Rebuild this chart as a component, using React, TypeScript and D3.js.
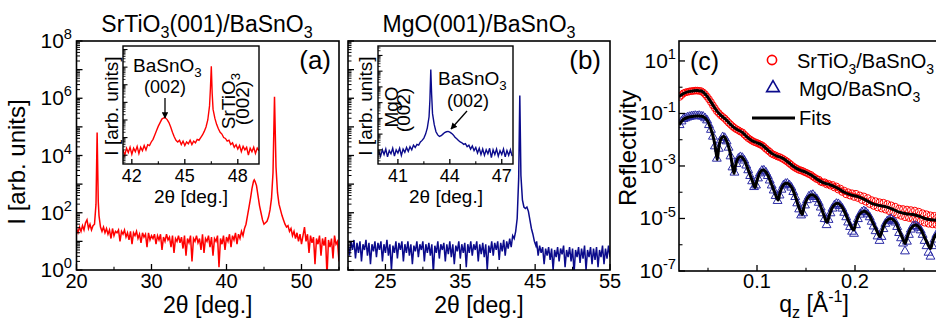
import React from 'react';
import * as d3 from 'd3';

type P = [number, number];
const FONT = '"Liberation Sans", Arial, Helvetica, sans-serif';

// ---------- Panel (a): SrTiO3(001)/BaSnO3, [2θ deg, log10 I] ----------
const XRD_STO: P[] = [
  [20.0,1.45],[20.2,1.3],[20.4,1.5],[20.6,1.35],[20.8,1.55],[21.0,1.4],[21.2,1.65],[21.4,1.75],[21.6,1.45],[21.8,1.6],
  [22.0,1.4],[22.2,1.55],[22.4,1.6],[22.6,2.3],[22.75,4.8],[22.9,2.4],[23.0,1.9],[23.2,1.5],[23.4,1.35],[23.6,1.5],[23.8,1.3],
  [24.0,1.45],[24.2,1.25],[24.4,1.4],[24.6,1.1],[24.8,1.45],[25.0,1.2],[25.2,1.35],[25.4,1.3],[25.6,1.4],[25.8,1.0],
  [26.0,1.35],[26.2,1.25],[26.4,1.4],[26.6,1.15],[26.8,1.3],[27.0,1.05],[27.2,1.35],[27.4,0.9],[27.6,1.3],[27.8,1.2],
  [28.0,1.35],[28.2,1.1],[28.4,1.25],[28.6,0.95],[28.8,1.3],[29.0,1.15],[29.2,1.25],[29.4,0.8],[29.6,1.3],[29.8,1.05],
  [30.0,1.2],[30.2,1.1],[30.4,1.25],[30.6,0.9],[30.8,1.2],[31.0,1.05],[31.2,1.25],[31.4,0.7],[31.6,1.15],[31.8,1.0],
  [32.0,1.25],[32.2,1.05],[32.4,1.15],[32.6,0.8],[32.8,1.2],[33.0,0.6],[33.2,1.1],[33.4,1.0],[33.6,1.2],[33.8,0.95],
  [34.0,1.15],[34.2,0.75],[34.4,1.2],[34.6,0.5],[34.8,1.1],[35.0,0.95],[35.2,1.2],[35.4,0.3],[35.6,1.1],[35.8,1.0],
  [36.0,1.2],[36.2,0.95],[36.4,1.1],[36.6,0.7],[36.8,1.25],[37.0,0.6],[37.2,1.1],[37.4,1.0],[37.6,1.2],[37.8,0.8],
  [38.0,1.15],[38.2,0.5],[38.4,1.1],[38.6,1.0],[38.8,1.2],[39.0,0.1],[39.2,1.1],[39.4,0.9],[39.6,1.2],[39.8,0.7],
  [40.0,1.15],[40.2,1.0],[40.4,1.25],[40.6,0.8],[40.8,1.2],[41.0,1.05],[41.2,1.3],[41.4,0.9],[41.6,1.25],[41.8,1.1],
  [42.0,1.35],[42.2,1.2],[42.4,1.45],[42.6,1.6],[42.8,1.9],[43.0,2.2],[43.2,2.5],[43.4,2.85],[43.6,3.1],[43.7,3.15],
  [43.8,3.1],[44.0,2.95],[44.2,2.6],[44.4,2.25],[44.6,2.0],[44.8,1.75],[45.0,1.6],[45.2,1.65],[45.4,1.7],[45.6,1.85],
  [45.8,2.1],[46.0,2.5],[46.2,3.4],[46.4,6.05],[46.6,3.6],[46.8,2.7],[47.0,2.3],[47.2,2.1],[47.4,1.9],[47.6,1.75],
  [47.8,1.6],[48.0,1.5],[48.2,1.55],[48.4,1.35],[48.6,1.45],[48.8,1.2],[49.0,1.35],[49.2,1.1],[49.4,1.3],[49.6,1.0],
  [49.8,1.25],[50.0,0.9],[50.2,1.2],[50.4,1.5],[50.6,1.0],[50.8,1.25],[51.0,0.6],[51.2,1.2],[51.4,0.95],[51.6,1.15],
  [51.8,0.2],[52.0,1.1],[52.2,0.9],[52.4,1.2],[52.6,0.5],[52.8,1.1],[53.0,0.85],[53.2,1.15],[53.4,-0.2],[53.6,1.05],
  [53.8,0.8],[54.0,1.1],[54.2,0.4],[54.4,1.2],[54.6,0.9],[54.8,1.0],[55.0,0.3],
];

const XRD_STO_INSET: P[] = [
  [41.5,1.3],[41.6,1.0],[41.7,1.4],[41.8,1.15],[41.9,1.45],[42.0,1.05],[42.1,1.4],[42.2,1.2],[42.3,1.5],[42.4,1.1],
  [42.5,1.45],[42.6,1.25],[42.7,1.55],[42.8,1.3],[42.9,1.6],[43.0,1.55],[43.1,1.75],[43.2,1.9],[43.3,2.15],[43.4,2.4],
  [43.5,2.65],[43.6,2.85],[43.7,3.05],[43.8,3.12],[43.9,3.12],[44.0,3.02],[44.1,2.85],[44.2,2.6],[44.3,2.3],[44.4,2.05],
  [44.5,1.85],[44.6,1.75],[44.7,1.85],[44.8,1.6],[44.9,1.8],[45.0,1.55],[45.1,1.75],[45.2,1.65],[45.3,1.85],[45.4,1.6],
  [45.5,1.8],[45.6,1.7],[45.7,1.9],[45.8,1.85],[45.9,2.0],[46.0,2.15],[46.1,2.35],[46.2,2.6],[46.3,3.0],[46.4,3.8],
  [46.45,4.8],[46.5,6.05],[46.55,4.5],[46.6,3.6],[46.7,3.1],[46.8,2.75],[46.9,2.5],[47.0,2.3],[47.1,2.2],[47.2,2.0],
  [47.3,1.95],[47.4,1.8],[47.5,1.85],[47.6,1.6],[47.7,1.7],[47.8,1.45],[47.9,1.6],[48.0,1.35],[48.1,1.55],[48.2,1.2],
  [48.3,1.5],[48.4,1.3],[48.5,1.45],[48.6,1.0],[48.7,1.4],[48.8,1.2],[48.9,1.45],[49.0,1.1],[49.1,1.4],[49.2,1.25],
];

// ---------- Panel (b): MgO(001)/BaSnO3, [2θ deg, log10 I] ----------
const XRD_MGO: P[] = [
  [20.0,0.9],[20.2,0.5],[20.4,1.0],[20.6,0.7],[20.8,1.05],[21.0,0.4],[21.2,0.95],[21.4,0.6],[21.6,1.0],[21.8,0.3],
  [22.0,0.9],[22.2,0.7],[22.4,1.05],[22.6,0.5],[22.8,0.95],[23.0,0.2],[23.2,0.9],[23.4,0.65],[23.6,1.0],[23.8,0.45],
  [24.0,0.95],[24.2,0.7],[24.4,1.0],[24.6,0.3],[24.8,0.9],[25.0,0.6],[25.2,1.05],[25.4,0.5],[25.6,0.9],[25.8,0.0],
  [26.0,0.85],[26.2,0.6],[26.4,1.0],[26.6,0.4],[26.8,0.95],[27.0,0.7],[27.2,1.0],[27.4,0.3],[27.6,0.9],[27.8,0.6],
  [28.0,1.0],[28.2,0.5],[28.4,0.9],[28.6,0.2],[28.8,0.85],[29.0,0.65],[29.2,1.0],[29.4,0.45],[29.6,0.9],[29.8,0.7],
  [30.0,1.0],[30.2,0.3],[30.4,0.9],[30.6,0.6],[30.8,0.95],[31.0,0.5],[31.2,0.9],[31.4,-0.1],[31.6,0.85],[31.8,0.6],
  [32.0,1.0],[32.2,0.4],[32.4,0.9],[32.6,0.7],[32.8,0.95],[33.0,0.3],[33.2,0.9],[33.4,0.55],[33.6,1.0],[33.8,0.45],
  [34.0,0.9],[34.2,0.2],[34.4,0.85],[34.6,0.65],[34.8,1.0],[35.0,0.4],[35.2,0.9],[35.4,0.6],[35.6,0.95],[35.8,0.1],
  [36.0,0.9],[36.2,0.6],[36.4,1.0],[36.6,0.5],[36.8,0.9],[37.0,0.7],[37.2,1.0],[37.4,0.3],[37.6,0.9],[37.8,0.55],
  [38.0,0.95],[38.2,0.45],[38.4,0.9],[38.6,0.0],[38.8,0.85],[39.0,0.6],[39.2,1.0],[39.4,0.5],[39.6,0.95],[39.8,0.7],
  [40.0,1.0],[40.2,0.35],[40.4,0.95],[40.6,0.65],[40.8,1.05],[41.0,0.5],[41.2,1.0],[41.4,0.75],[41.6,1.1],[41.8,0.8],
  [42.0,1.2],[42.2,1.1],[42.4,1.35],[42.6,1.8],[42.8,3.2],[42.95,6.1],[43.1,3.3],[43.3,2.45],[43.5,2.2],[43.7,2.15],
  [43.9,2.2],[44.1,2.05],[44.3,1.75],[44.5,1.45],[44.7,1.25],[44.9,1.0],[45.1,0.85],[45.2,1.0],[45.4,0.5],[45.6,0.85],
  [45.8,0.6],[46.0,0.8],[46.2,0.2],[46.4,0.75],[46.6,0.5],[46.8,0.8],[47.0,0.35],[47.2,0.75],[47.4,0.0],[47.6,0.7],
  [47.8,0.45],[48.0,0.8],[48.2,0.3],[48.4,0.75],[48.6,0.55],[48.8,0.85],[49.0,0.1],[49.2,0.7],[49.4,0.45],[49.6,0.8],
  [49.8,0.3],[50.0,0.75],[50.2,-0.1],[50.4,0.7],[50.6,0.45],[50.8,0.8],[51.0,0.25],[51.2,0.75],[51.4,0.4],[51.6,0.85],
  [51.8,0.0],[52.0,0.7],[52.2,0.45],[52.4,0.8],[52.6,0.2],[52.8,0.75],[53.0,0.35],[53.2,0.8],[53.4,0.1],[53.6,0.7],
  [53.8,0.45],[54.0,0.85],[54.2,0.2],[54.4,0.75],[54.6,0.4],[54.8,0.85],[55.0,0.45],
];

const XRD_MGO_INSET: P[] = [
  [39.9,0.9],[40.0,0.6],[40.1,1.0],[40.2,0.7],[40.3,1.05],[40.4,0.55],[40.5,0.95],[40.6,0.75],[40.7,1.1],[40.8,0.6],
  [40.9,1.0],[41.0,0.8],[41.1,1.1],[41.2,0.65],[41.3,1.05],[41.4,0.85],[41.5,1.15],[41.6,0.9],[41.7,1.2],[41.8,1.0],
  [41.9,1.3],[42.0,1.15],[42.1,1.35],[42.2,1.3],[42.3,1.5],[42.4,1.6],[42.5,1.75],[42.6,2.0],[42.7,2.4],[42.8,3.1],
  [42.85,4.2],[42.9,6.1],[42.95,4.5],[43.0,3.3],[43.1,2.6],[43.2,2.15],[43.3,1.95],[43.4,1.85],[43.5,1.9],[43.6,2.0],
  [43.7,2.1],[43.8,2.15],[43.9,2.17],[44.0,2.12],[44.1,2.05],[44.2,1.95],[44.3,1.8],[44.4,1.7],[44.5,1.6],[44.6,1.5],
  [44.7,1.45],[44.8,1.35],[44.9,1.4],[45.0,1.2],[45.1,1.3],[45.2,1.05],[45.3,1.25],[45.4,0.95],[45.5,1.15],[45.6,0.8],
  [45.7,1.1],[45.8,0.7],[45.9,1.05],[46.0,0.65],[46.1,1.0],[46.2,0.75],[46.3,1.1],[46.4,0.5],[46.5,1.0],[46.6,0.7],
  [46.7,1.05],[46.8,0.6],[46.9,0.95],[47.0,0.7],[47.1,1.05],[47.2,0.55],[47.3,0.95],[47.4,0.65],[47.5,1.0],[47.6,0.6],
];

// ---------- Panel (c): X-ray reflectivity, [q_z 1/Å, log10 R] ----------
const XRR_STO_DATA: P[] = [
  [0.021,-0.37],[0.023,-0.30],[0.025,-0.23],[0.027,-0.20],[0.029,-0.18],[0.031,-0.16],[0.033,-0.15],[0.035,-0.14],[0.037,-0.13],[0.039,-0.13],
  [0.041,-0.14],[0.043,-0.15],[0.045,-0.20],[0.047,-0.27],[0.049,-0.36],[0.051,-0.46],[0.053,-0.57],[0.055,-0.69],[0.057,-0.80],[0.059,-0.91],
  [0.061,-0.99],[0.063,-1.07],[0.065,-1.13],[0.067,-1.19],[0.069,-1.27],[0.071,-1.35],[0.073,-1.42],[0.075,-1.49],[0.077,-1.55],[0.079,-1.60],
  [0.081,-1.64],[0.083,-1.69],[0.085,-1.72],[0.087,-1.80],[0.089,-1.87],[0.091,-1.94],[0.093,-1.99],[0.095,-2.04],[0.097,-2.08],[0.099,-2.11],
  [0.101,-2.14],[0.103,-2.18],[0.105,-2.21],[0.107,-2.27],[0.109,-2.34],[0.111,-2.40],[0.113,-2.46],[0.115,-2.53],[0.117,-2.57],[0.119,-2.60],
  [0.121,-2.64],[0.123,-2.66],[0.125,-2.70],[0.127,-2.74],[0.129,-2.79],[0.131,-2.84],[0.133,-2.90],[0.135,-2.96],[0.137,-3.02],[0.139,-3.07],
  [0.141,-3.11],[0.143,-3.15],[0.145,-3.17],[0.147,-3.20],[0.149,-3.24],[0.151,-3.27],[0.153,-3.31],[0.155,-3.34],[0.157,-3.40],[0.159,-3.45],
  [0.161,-3.50],[0.163,-3.52],[0.165,-3.60],[0.167,-3.63],[0.169,-3.62],[0.171,-3.70],[0.173,-3.68],[0.175,-3.75],[0.177,-3.72],[0.179,-3.82],
  [0.181,-3.78],[0.183,-3.90],[0.185,-3.86],[0.187,-3.99],[0.189,-3.94],[0.191,-4.08],[0.193,-4.00],[0.195,-4.13],[0.197,-4.04],[0.199,-4.18],
  [0.201,-4.06],[0.203,-4.22],[0.205,-4.12],[0.207,-4.30],[0.209,-4.16],[0.211,-4.36],[0.213,-4.22],[0.215,-4.45],[0.217,-4.30],[0.219,-4.52],
  [0.221,-4.34],[0.223,-4.58],[0.225,-4.38],[0.227,-4.62],[0.229,-4.40],[0.231,-4.66],[0.233,-4.45],[0.235,-4.72],[0.237,-4.50],[0.239,-4.78],
  [0.241,-4.55],[0.243,-4.85],[0.245,-4.62],[0.247,-4.90],[0.249,-4.64],[0.251,-4.95],[0.253,-4.66],[0.255,-4.98],[0.257,-4.68],[0.259,-5.02],
  [0.261,-4.70],[0.263,-5.06],[0.265,-4.74],[0.267,-5.10],[0.269,-4.80],[0.271,-5.16],[0.273,-4.84],[0.275,-5.20],[0.277,-4.88],[0.279,-5.22],
  [0.281,-4.90],[0.283,-5.24],[0.285,-4.92],[0.287,-5.25],[0.289,-4.95],
];

const XRR_MGO_DATA: P[] = [
  [0.021,-1.44],[0.023,-1.30],[0.025,-1.21],[0.027,-1.18],[0.029,-1.15],[0.031,-1.13],[0.033,-1.11],[0.035,-1.10],[0.037,-1.09],[0.039,-1.10],
  [0.041,-1.09],[0.043,-1.11],[0.045,-1.12],[0.047,-1.18],[0.049,-1.26],[0.051,-1.44],[0.053,-1.62],[0.055,-1.88],[0.057,-2.25],[0.059,-2.72],
  [0.061,-2.34],[0.063,-2.02],[0.065,-1.90],[0.067,-1.93],[0.069,-2.06],[0.071,-2.30],[0.073,-2.63],[0.075,-3.05],[0.077,-3.25],[0.079,-2.92],
  [0.081,-2.72],[0.083,-2.66],[0.085,-2.69],[0.087,-2.79],[0.089,-2.98],[0.091,-3.16],[0.093,-3.38],[0.095,-3.58],[0.097,-3.80],[0.099,-3.74],
  [0.101,-3.47],[0.103,-3.28],[0.105,-3.18],[0.107,-3.17],[0.109,-3.24],[0.111,-3.38],[0.113,-3.55],[0.115,-3.74],[0.117,-3.93],[0.119,-4.14],
  [0.121,-4.33],[0.123,-4.12],[0.125,-3.90],[0.127,-3.74],[0.129,-3.68],[0.131,-3.67],[0.133,-3.73],[0.135,-3.82],[0.137,-3.99],[0.139,-4.18],
  [0.141,-4.42],[0.143,-4.65],[0.145,-4.88],[0.147,-4.80],[0.149,-4.50],[0.151,-4.30],[0.153,-4.16],[0.155,-4.12],[0.157,-4.10],[0.159,-4.18],
  [0.161,-4.26],[0.163,-4.40],[0.165,-4.58],[0.167,-4.80],[0.169,-5.02],[0.171,-5.25],[0.173,-5.05],[0.175,-4.80],[0.177,-4.62],[0.179,-4.50],
  [0.181,-4.44],[0.183,-4.45],[0.185,-4.52],[0.187,-4.62],[0.189,-4.78],[0.191,-4.95],[0.193,-5.15],[0.195,-5.32],[0.197,-5.50],[0.199,-5.58],
  [0.201,-5.25],[0.203,-5.02],[0.205,-4.85],[0.207,-4.76],[0.209,-4.72],[0.211,-4.76],[0.213,-4.84],[0.215,-4.95],[0.217,-5.12],[0.219,-5.30],
  [0.221,-5.48],[0.223,-5.68],[0.225,-5.85],[0.227,-5.70],[0.229,-5.40],[0.231,-5.20],[0.233,-5.10],[0.235,-5.05],[0.237,-5.02],[0.239,-5.10],
  [0.241,-5.15],[0.243,-5.32],[0.245,-5.55],[0.247,-5.75],[0.249,-5.95],[0.251,-6.25],[0.253,-5.88],[0.255,-5.62],[0.257,-5.42],[0.259,-5.30],
  [0.261,-5.28],[0.263,-5.30],[0.265,-5.35],[0.267,-5.45],[0.269,-5.62],[0.271,-5.85],[0.273,-6.05],[0.275,-6.30],[0.277,-6.45],[0.279,-6.05],
  [0.281,-5.80],[0.283,-5.62],[0.285,-5.55],[0.287,-5.52],[0.289,-5.50],
];

const XRR_STO_FIT: P[] = [
  [0.0204,-0.36],[0.025,-0.24],[0.030,-0.17],[0.035,-0.14],[0.040,-0.13],[0.044,-0.16],[0.048,-0.30],[0.052,-0.50],[0.056,-0.74],
  [0.060,-0.95],[0.064,-1.10],[0.068,-1.22],[0.072,-1.38],[0.076,-1.52],[0.080,-1.62],[0.085,-1.72],[0.090,-1.90],[0.095,-2.04],
  [0.100,-2.12],[0.105,-2.20],[0.110,-2.36],[0.115,-2.52],[0.120,-2.62],[0.126,-2.70],[0.132,-2.86],[0.138,-3.04],[0.144,-3.16],
  [0.150,-3.24],[0.156,-3.36],[0.162,-3.52],[0.168,-3.64],[0.175,-3.72],[0.182,-3.84],[0.189,-4.00],[0.196,-4.10],[0.203,-4.17],
  [0.210,-4.28],[0.217,-4.42],[0.224,-4.50],[0.231,-4.55],[0.238,-4.64],[0.245,-4.76],[0.252,-4.82],[0.259,-4.85],[0.266,-4.92],
  [0.273,-5.02],[0.280,-5.06],[0.289,-5.08],
];

const XRR_MGO_FIT: P[] = [
  [0.0204,-1.44],[0.025,-1.22],[0.030,-1.14],[0.035,-1.11],[0.040,-1.10],[0.045,-1.12],[0.049,-1.25],[0.053,-1.60],[0.056,-2.00],
  [0.0585,-2.55],[0.0595,-2.75],[0.061,-2.30],[0.0635,-1.95],[0.066,-1.88],[0.069,-2.05],[0.072,-2.40],[0.0745,-2.90],[0.0765,-3.28],
  [0.078,-3.00],[0.0805,-2.72],[0.0835,-2.65],[0.087,-2.78],[0.091,-3.15],[0.095,-3.55],[0.098,-3.82],[0.100,-3.55],[0.1035,-3.22],
  [0.1065,-3.15],[0.110,-3.28],[0.114,-3.62],[0.118,-4.00],[0.1215,-4.30],[0.1235,-4.00],[0.1275,-3.70],[0.131,-3.66],[0.135,-3.80],
  [0.139,-4.15],[0.1425,-4.55],[0.146,-4.85],[0.148,-4.55],[0.152,-4.20],[0.156,-4.10],[0.160,-4.18],[0.164,-4.45],[0.168,-4.85],
  [0.1715,-5.15],[0.174,-4.85],[0.178,-4.52],[0.182,-4.42],[0.186,-4.52],[0.190,-4.80],[0.194,-5.15],[0.1985,-5.44],[0.201,-5.15],
  [0.205,-4.82],[0.2095,-4.72],[0.214,-4.85],[0.218,-5.15],[0.222,-5.45],[0.2255,-5.69],[0.228,-5.42],[0.232,-5.10],[0.2365,-5.00],
  [0.241,-5.12],[0.245,-5.45],[0.2485,-5.75],[0.251,-5.95],[0.2535,-5.68],[0.2575,-5.35],[0.262,-5.25],[0.2665,-5.38],[0.2705,-5.68],
  [0.274,-5.95],[0.277,-6.14],[0.2795,-5.85],[0.283,-5.60],[0.2885,-5.52],
];

// ---------- ticks ----------
const XRD_X_DOMAIN: P = [20, 55];
const A_XTICKS = [20, 30, 40, 50];
const A_XMINOR = [25, 35, 45, 55];
const B_XTICKS = [25, 35, 45, 55];
const B_XMINOR = [20, 30, 40, 50];
const XRD_YDECADES = [0, 1, 2, 3, 4, 5, 6, 7, 8];
const A_YLABELS = [0, 2, 4, 6, 8];
const IA_XTICKS = [42, 45, 48];
const IA_XMINOR = [43.5, 46.5];
const IB_XTICKS = [41, 44, 47];
const IB_XMINOR = [42.5, 45.5];
const C_XTICKS = [0.1, 0.2];
const C_XMINOR = [0.05, 0.15, 0.25];
const C_YMAJOR = [1, -1, -3, -5, -7];
const C_YMINOR = [0, -2, -4, -6];

const TOP = 41;
const BOTTOM = 270;

type Part = { t: string; s?: 'sub' | 'sup' };
function Rich({ x = 0, y = 0, parts, fs, anchor = 'start', transform, fill = '#000' }: {
  x?: number; y?: number; parts: Part[]; fs: number; anchor?: string; transform?: string; fill?: string;
}) {
  let cur = 0;
  const spans = parts.map((p, i) => {
    const target = p.s === 'sub' ? fs * 0.28 : p.s === 'sup' ? -fs * 0.42 : 0;
    const dy = target - cur;
    cur = target;
    return (
      <tspan key={i} dy={dy} fontSize={p.s ? fs * 0.7 : fs}>{p.t}</tspan>
    );
  });
  return (
    <text x={x} y={y} fontSize={fs} textAnchor={anchor as any} transform={transform} fontFamily={FONT} fill={fill}>
      {spans}
    </text>
  );
}

function logMinor(lo: number, hi: number): number[] {
  const out: number[] = [];
  for (let d = Math.floor(lo); d < Math.ceil(hi); d++) {
    for (let k = 2; k <= 9; k++) {
      const v = d + Math.log10(k);
      if (v > lo && v < hi) out.push(v);
    }
  }
  return out;
}

const pw = (v: number) => Math.pow(10, v);

export default function App() {
  const xA = d3.scaleLinear().domain(XRD_X_DOMAIN).range([76.5, 339]);
  const xB = d3.scaleLinear().domain(XRD_X_DOMAIN).range([348, 610]);
  const yXRD = d3.scaleLog().domain([1, 1e8]).range([BOTTOM, TOP]);

  const xIA = d3.scaleLinear().domain([41.5, 49.2]).range([123, 259]);
  const yIA = d3.scaleLog().domain([pw(0.5), pw(7.2)]).range([164, 46]);
  const xIB = d3.scaleLinear().domain([39.85, 47.65]).range([378, 513]);
  const yIB = d3.scaleLog().domain([pw(0.1), pw(7.6)]).range([164, 46]);

  const xC = d3.scaleLinear().domain([0.0204, 0.3]).range([679, 953]);
  const yC = d3.scaleLog().domain([1e-7, pw(1.76)]).range([271, 41]);

  const line = (xs: any, ys: any, curve: any = d3.curveLinear) =>
    d3.line<P>().x((d) => xs(d[0])).y((d) => ys(pw(d[1]))).curve(curve);

  const redC = '#ff0000';
  const blueC = '#0b0b8c';
  const triC = '#2b2ba6';
  const tri = d3.symbol().type(d3.symbolTriangle).size(34)() as string;
  const triLegend = d3.symbol().type(d3.symbolTriangle).size(70)() as string;

  const xrdYAxis = (x0: number, labels: boolean) => (
    <g>
      {XRD_YDECADES.map((e) => (
        <line key={'M' + e} x1={x0} x2={x0 + 6} y1={yXRD(pw(e))} y2={yXRD(pw(e))} stroke="#000" strokeWidth={1.3} />
      ))}
      {logMinor(0, 8).map((v, i) => (
        <line key={'m' + i} x1={x0} x2={x0 + 3.5} y1={yXRD(pw(v))} y2={yXRD(pw(v))} stroke="#000" strokeWidth={1} />
      ))}
      {labels &&
        A_YLABELS.map((e) => (
          <Rich key={'L' + e} x={72} y={yXRD(pw(e)) + 7} fs={21} anchor="end" parts={[{ t: '10' }, { t: String(e), s: 'sup' }]} />
        ))}
    </g>
  );

  const xAxis = (xs: any, major: number[], minor: number[], y0: number, labelY: number, fs: number, len = 6, fmt = (v: number) => String(v)) => (
    <g>
      {major.map((v) => (
        <line key={'M' + v} x1={xs(v)} x2={xs(v)} y1={y0} y2={y0 - len} stroke="#000" strokeWidth={1.3} />
      ))}
      {minor.map((v) => (
        <line key={'m' + v} x1={xs(v)} x2={xs(v)} y1={y0} y2={y0 - len * 0.55} stroke="#000" strokeWidth={1.1} />
      ))}
      {major.map((v) => (
        <text key={'L' + v} x={xs(v)} y={labelY} fontSize={fs} textAnchor="middle" fontFamily={FONT}>{fmt(v)}</text>
      ))}
    </g>
  );

  const insetYAxis = (x0: number, ys: any, lo: number, hi: number) => (
    <g>
      {d3.range(Math.ceil(lo), Math.floor(hi) + 1).map((e) => (
        <line key={'M' + e} x1={x0} x2={x0 + 4.5} y1={ys(pw(e))} y2={ys(pw(e))} stroke="#000" strokeWidth={1.1} />
      ))}
      {logMinor(lo, hi).map((v, i) => (
        <line key={'m' + i} x1={x0} x2={x0 + 2.5} y1={ys(pw(v))} y2={ys(pw(v))} stroke="#000" strokeWidth={0.8} />
      ))}
    </g>
  );

  const sto3: Part[] = [{ t: 'SrTiO' }, { t: '3', s: 'sub' }];
  const bso3: Part[] = [{ t: 'BaSnO' }, { t: '3', s: 'sub' }];

  return (
    <div>
      <style>{`body{margin:0;background:#fff}`}</style>
      <svg width={936} height={323} viewBox="0 0 936 323" style={{ display: 'block', background: '#fff' }} fontFamily={FONT}>
        <defs>
          <clipPath id="clipA"><rect x={76.5} y={TOP} width={339 - 76.5} height={BOTTOM - TOP} /></clipPath>
          <clipPath id="clipB"><rect x={348} y={TOP} width={610 - 348} height={BOTTOM - TOP} /></clipPath>
          <clipPath id="clipIA"><rect x={123} y={46} width={136} height={118} /></clipPath>
          <clipPath id="clipIB"><rect x={378} y={46} width={135} height={118} /></clipPath>
          <clipPath id="clipC"><rect x={679} y={41} width={274} height={230} /></clipPath>
          <marker id="arrow" viewBox="0 0 10 10" refX={9} refY={5} markerWidth={5} markerHeight={5} orient="auto">
            <path d="M0,0 L10,5 L0,10 z" fill="#000" />
          </marker>
        </defs>

        {/* ================= Panel (a) ================= */}
        <Rich x={207} y={32} fs={23} anchor="middle" parts={[{ t: 'SrTiO' }, { t: '3', s: 'sub' }, { t: '(001)/BaSnO' }, { t: '3', s: 'sub' }]} />
        <path d={line(xA, yXRD)(XRD_STO) || ''} fill="none" stroke={redC} strokeWidth={1.5} clipPath="url(#clipA)" />
        {xrdYAxis(76.5, true)}
        {xAxis(xA, A_XTICKS, A_XMINOR, BOTTOM, 288, 20)}
        <rect x={76.5} y={TOP} width={339 - 76.5} height={BOTTOM - TOP} fill="none" stroke="#000" strokeWidth={1.6} />
        <text x={331} y={69} fontSize={26} textAnchor="end" fontFamily={FONT}>(a)</text>
        <text transform="translate(25,162) rotate(-90)" fontSize={24} textAnchor="middle" fontFamily={FONT}>I [arb. units]</text>
        <text x={207.7} y={313} fontSize={23} textAnchor="middle" fontFamily={FONT}>2θ [deg.]</text>

        {/* inset (a) */}
        <rect x={123} y={46} width={136} height={118} fill="#fff" stroke="none" />
        <path d={line(xIA, yIA)(XRD_STO_INSET) || ''} fill="none" stroke={redC} strokeWidth={1.4} clipPath="url(#clipIA)" />
        {insetYAxis(123, yIA, 0.5, 7.2)}
        {xAxis(xIA, IA_XTICKS, IA_XMINOR, 164, 182, 18, 5)}
        <rect x={123} y={46} width={136} height={118} fill="none" stroke="#000" strokeWidth={1.4} />
        <text transform="translate(118,106) rotate(-90)" fontSize={19} textAnchor="middle" fontFamily={FONT}>I [arb. units]</text>
        <text x={191} y={203} fontSize={19} textAnchor="middle" fontFamily={FONT}>2θ [deg.]</text>
        <Rich x={133} y={72} fs={19} parts={bso3} />
        <text x={165} y={93} fontSize={18} textAnchor="middle" fontFamily={FONT}>(002)</text>
        <line x1={165} y1={98} x2={165} y2={118} stroke="#000" strokeWidth={1.3} markerEnd="url(#arrow)" />
        <Rich transform="translate(235,101) rotate(-90)" fs={19} anchor="middle" parts={sto3} />
        <text transform="translate(249,103) rotate(-90)" fontSize={19} textAnchor="middle" fontFamily={FONT}>(002)</text>

        {/* ================= Panel (b) ================= */}
        <Rich x={479} y={32} fs={23} anchor="middle" parts={[{ t: 'MgO(001)/BaSnO' }, { t: '3', s: 'sub' }]} />
        <path d={line(xB, yXRD)(XRD_MGO) || ''} fill="none" stroke={blueC} strokeWidth={1.5} clipPath="url(#clipB)" />
        {xrdYAxis(348, false)}
        {xAxis(xB, B_XTICKS, B_XMINOR, BOTTOM, 288, 20)}
        <rect x={348} y={TOP} width={610 - 348} height={BOTTOM - TOP} fill="none" stroke="#000" strokeWidth={1.6} />
        <text x={601} y={69} fontSize={26} textAnchor="end" fontFamily={FONT}>(b)</text>
        <text x={479} y={313} fontSize={23} textAnchor="middle" fontFamily={FONT}>2θ [deg.]</text>

        {/* inset (b) */}
        <rect x={378} y={46} width={135} height={118} fill="#fff" stroke="none" />
        <path d={line(xIB, yIB)(XRD_MGO_INSET) || ''} fill="none" stroke={blueC} strokeWidth={1.4} clipPath="url(#clipIB)" />
        {insetYAxis(378, yIB, 0.1, 7.6)}
        {xAxis(xIB, IB_XTICKS, IB_XMINOR, 164, 182, 18, 5)}
        <rect x={378} y={46} width={135} height={118} fill="none" stroke="#000" strokeWidth={1.4} />
        <text transform="translate(372,106) rotate(-90)" fontSize={19} textAnchor="middle" fontFamily={FONT}>I [arb. units]</text>
        <text x={446} y={203} fontSize={19} textAnchor="middle" fontFamily={FONT}>2θ [deg.]</text>
        <text transform="translate(398,107) rotate(-90)" fontSize={19} textAnchor="middle" fontFamily={FONT}>MgO</text>
        <text transform="translate(410,110) rotate(-90)" fontSize={19} textAnchor="middle" fontFamily={FONT}>(002)</text>
        <Rich x={438} y={85} fs={19} parts={bso3} />
        <text x={468} y={107} fontSize={18} textAnchor="middle" fontFamily={FONT}>(002)</text>
        <line x1={467} y1={111} x2={451} y2={129} stroke="#000" strokeWidth={1.3} markerEnd="url(#arrow)" />

        {/* ================= Panel (c) ================= */}
        <g clipPath="url(#clipC)">
          {XRR_STO_DATA.map((d, i) => (
            <circle key={'r' + i} cx={xC(d[0])} cy={yC(pw(d[1]))} r={3.4} fill="none" stroke={redC} strokeWidth={1} />
          ))}
          {XRR_MGO_DATA.map((d, i) => (
            <path key={'b' + i} d={tri} transform={`translate(${xC(d[0])},${yC(pw(d[1]))})`} fill="none" stroke={triC} strokeWidth={1} />
          ))}
          <path d={line(xC, yC, d3.curveCatmullRom.alpha(0.5))(XRR_STO_FIT) || ''} fill="none" stroke="#000" strokeWidth={3} />
          <path d={line(xC, yC, d3.curveCatmullRom.alpha(0.5))(XRR_MGO_FIT) || ''} fill="none" stroke="#000" strokeWidth={3} />
        </g>
        <g>
          {C_YMAJOR.map((e) => (
            <line key={'M' + e} x1={679} x2={685} y1={yC(pw(e))} y2={yC(pw(e))} stroke="#000" strokeWidth={1.3} />
          ))}
          {C_YMINOR.map((e) => (
            <line key={'m' + e} x1={679} x2={682.5} y1={yC(pw(e))} y2={yC(pw(e))} stroke="#000" strokeWidth={1.1} />
          ))}
          {C_YMAJOR.map((e) => (
            <Rich key={'L' + e} x={676} y={yC(pw(e)) + 7} fs={21} anchor="end" parts={[{ t: '10' }, { t: String(e), s: 'sup' }]} />
          ))}
        </g>
        {xAxis(xC, C_XTICKS, C_XMINOR, 271, 288, 20, 6, (v) => String(v))}
        <rect x={679} y={41} width={274} height={230} fill="none" stroke="#000" strokeWidth={1.6} />
        <text x={690} y={70} fontSize={25} fontFamily={FONT}>(c)</text>
        <text transform="translate(636,148) rotate(-90)" fontSize={24} textAnchor="middle" fontFamily={FONT}>Reflectivity</text>
        <Rich x={814} y={312} fs={23} anchor="middle" parts={[{ t: 'q' }, { t: 'z', s: 'sub' }, { t: ' [Å' }, { t: '-1', s: 'sup' }, { t: ']' }]} />

        {/* legend */}
        <circle cx={772} cy={60} r={4.6} fill="none" stroke={redC} strokeWidth={1.6} />
        <Rich x={797} y={68} fs={20} parts={[{ t: 'SrTiO' }, { t: '3', s: 'sub' }, { t: '/BaSnO' }, { t: '3', s: 'sub' }]} />
        <path d={triLegend} transform="translate(773,88)" fill="none" stroke={blueC} strokeWidth={1.6} />
        <Rich x={799} y={96} fs={20} parts={[{ t: 'MgO/BaSnO' }, { t: '3', s: 'sub' }]} />
        <line x1={752} x2={795} y1={118} y2={118} stroke="#000" strokeWidth={3} />
        <text x={799} y={125} fontSize={20} fontFamily={FONT}>Fits</text>
      </svg>
    </div>
  );
}
